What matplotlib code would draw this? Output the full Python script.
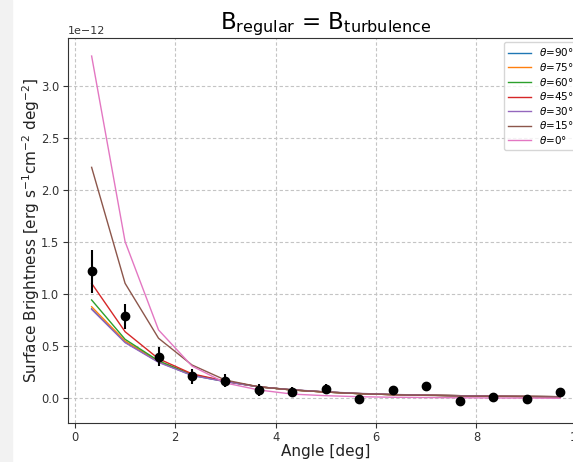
import numpy as np
import matplotlib
matplotlib.use("Agg")
import matplotlib.pyplot as plt
from matplotlib.patches import Rectangle

# angular bins [deg]
angle = np.array([1/3, 1, 5/3, 7/3, 3, 11/3, 13/3, 5, 17/3, 19/3, 7, 23/3, 25/3, 9, 29/3])

# observed surface brightness (units of 1e-12)
obs = [1.22, 0.79, 0.40, 0.21, 0.17, 0.08, 0.058, 0.09, -0.007, 0.08, 0.12, -0.023, 0.016, -0.01, 0.057]
obs_err = [0.21, 0.12, 0.09, 0.07, 0.06, 0.055, 0.05, 0.05, 0.03, 0.03, 0.02, 0.02, 0.02, 0.02, 0.02]

# model curves for each inclination (units of 1e-12)
labels = [r"$\theta$=90°", r"$\theta$=75°", r"$\theta$=60°", r"$\theta$=45°",
          r"$\theta$=30°", r"$\theta$=15°", r"$\theta$=0°"]
m90 = [0.86, 0.54, 0.35, 0.22, 0.16, 0.11, 0.08, 0.06, 0.045, 0.035, 0.03, 0.025, 0.02, 0.018, 0.015]
m75 = [0.88, 0.55, 0.355, 0.225, 0.162, 0.11, 0.08, 0.06, 0.045, 0.035, 0.03, 0.025, 0.02, 0.018, 0.015]
m60 = [0.945, 0.567, 0.36, 0.228, 0.163, 0.11, 0.08, 0.06, 0.045, 0.035, 0.03, 0.025, 0.02, 0.018, 0.015]
m45 = [1.105, 0.64, 0.38, 0.235, 0.165, 0.11, 0.08, 0.06, 0.045, 0.035, 0.03, 0.025, 0.02, 0.018, 0.015]
m30 = [0.855, 0.535, 0.345, 0.22, 0.16, 0.11, 0.082, 0.062, 0.047, 0.037, 0.03, 0.025, 0.02, 0.018, 0.015]
m15 = [2.22, 1.105, 0.577, 0.32, 0.175, 0.11, 0.08, 0.06, 0.045, 0.035, 0.028, 0.022, 0.018, 0.015, 0.013]
m0 = [3.29, 1.506, 0.657, 0.31, 0.147, 0.08, 0.04, 0.025, 0.015, 0.01, 0.007, 0.005, 0.003, 0.002, 0.0]
models = [m90, m75, m60, m45, m30, m15, m0]

fig = plt.figure(figsize=(5.73, 4.62), dpi=100)
fig.patches.append(Rectangle((0, 0), 12/573, 1, transform=fig.transFigure,
                             color="#f2f2f2", zorder=-1))
ax = fig.add_axes([0.118, 0.085, 0.900, 0.832])

scale = 1e-12
for m, lab in zip(models, labels):
    ax.plot(angle, np.array(m) * scale, lw=1, label=lab)

ax.errorbar(angle, np.array(obs) * scale, yerr=np.array(obs_err) * scale,
            fmt="o", color="black", ms=6, elinewidth=1.5, zorder=5)

ax.set_xlim(-0.145, 10.13)
ax.set_ylim(-0.235e-12, 3.46e-12)
ax.set_yticks(np.arange(0, 3.01, 0.5) * scale)
ax.set_xticks([0, 2, 4, 6, 8, 10])

ax.grid(True, ls=(0, (3, 2)), color="#c4c4c4", lw=0.8)
for s in ax.spines.values():
    s.set_color("#333333")
ax.tick_params(labelsize=8.3, colors="#333333", labelcolor="#333333", pad=2.5)
ax.yaxis.get_offset_text().set_fontsize(8)
ax.yaxis.get_offset_text().set_color("#333333")

ax.set_title(r"$\mathrm{B_{regular}}$ = $\mathrm{B_{turbulence}}$", fontsize=16.5, pad=3)
ax.set_xlabel("Angle [deg]", fontsize=11, labelpad=0, color="#222222")
ax.set_ylabel(r"Surface Brightness [erg s$^{-1}$cm$^{-2}$ deg$^{-2}$]",
              fontsize=11, color="#222222", labelpad=-1)

ax.legend(loc="upper left", bbox_to_anchor=(0.846, 0.99), fontsize=7.5,
          handlelength=2.2, labelspacing=0.25, borderaxespad=0)

fig.savefig("out.png", dpi=100)
